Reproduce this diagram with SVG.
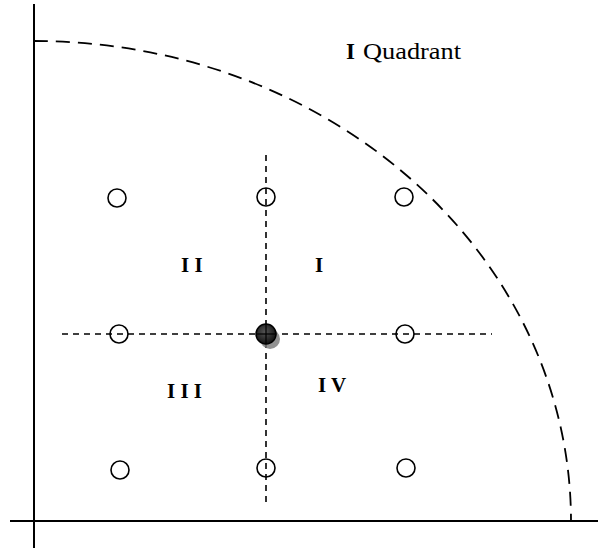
<svg xmlns="http://www.w3.org/2000/svg" width="598" height="548" viewBox="0 0 598 548">
<style>
.axis{stroke:#000;stroke-width:2;fill:none}
.dash{stroke:#000;stroke-width:1.6;stroke-dasharray:6 5;fill:none}
.arc{stroke:#000;stroke-width:1.8;stroke-dasharray:14 8;fill:none}
.pt{fill:#fff;stroke:#000;stroke-width:1.6}
.lbl{font-family:"Liberation Serif","Times New Roman",serif;font-weight:bold;font-size:21px;fill:#000}
.title{font-family:"Liberation Serif","Times New Roman",serif;font-size:23px;fill:#000}
</style>
<defs>
<radialGradient id="g" cx="0.45" cy="0.4" r="0.6">
<stop offset="0" stop-color="#555"/>
<stop offset="1" stop-color="#111"/>
</radialGradient>
</defs>
<g id="axes">
<line class="axis" x1="34" y1="4" x2="34" y2="548"/>
<line class="axis" x1="10" y1="521" x2="598" y2="521"/>
</g>
<g id="boundary">
<path class="arc" d="M34,41 A537,480 0 0 1 571,521"/>
</g>
<g id="connectors">
<line class="dash" x1="266" y1="155" x2="266" y2="502"/>
<line class="dash" x1="62" y1="334" x2="492" y2="334"/>
</g>
<g id="p11"><circle class="pt" cx="117" cy="198" r="9"/></g>
<g id="p12"><circle class="pt" cx="266" cy="197" r="9" style="fill:none"/></g>
<g id="p13"><circle class="pt" cx="404" cy="197" r="9"/></g>
<g id="p21"><circle class="pt" cx="119" cy="334" r="9" style="fill:none"/></g>
<g id="p23"><circle class="pt" cx="405" cy="334" r="9" style="fill:none"/></g>
<g id="p31"><circle class="pt" cx="120" cy="470" r="9"/></g>
<g id="p32"><circle class="pt" cx="266" cy="468" r="9" style="fill:none"/></g>
<g id="p33"><circle class="pt" cx="406" cy="468" r="9"/></g>
<g id="center">
<circle cx="270" cy="339" r="10" fill="#777" opacity="0.8"/>
<circle cx="266" cy="334" r="10" fill="url(#g)" stroke="#000" stroke-width="1.5"/>
<line x1="266" y1="324" x2="266" y2="344" stroke="#000" stroke-width="1.2"/>
<line x1="256" y1="334" x2="276" y2="334" stroke="#000" stroke-width="1.2"/>
</g>
<g id="labels">
<text class="lbl" x="181" y="272">I I</text>
<text class="lbl" x="315" y="272">I</text>
<text class="lbl" x="167" y="398">I I I</text>
<text class="lbl" x="318" y="392">I V</text>
</g>
<g id="title">
<text class="title" x="346" y="59"><tspan font-weight="bold">I</tspan><tspan x="363" textLength="98" lengthAdjust="spacingAndGlyphs">Quadrant</tspan></text>
</g>
</svg>
